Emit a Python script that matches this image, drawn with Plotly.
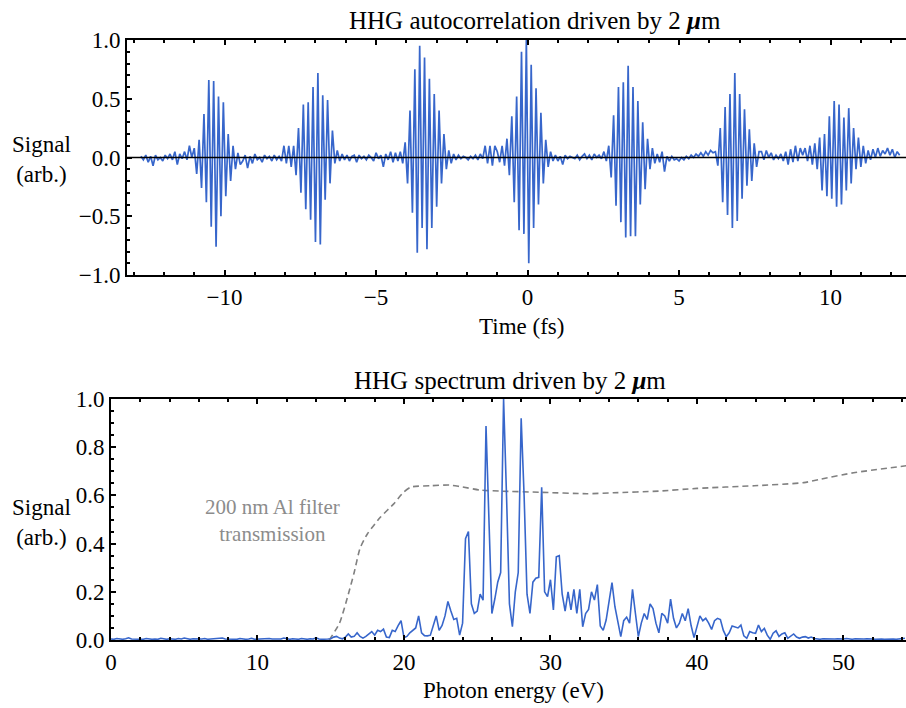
import plotly.graph_objects as go

# ---------------- Top panel: autocorrelation signal (arb.) ----------------
# uniform time sampling: t = T_START + DT * index
T_START = -12.76
DT = 0.08

noise_0 = [0.01, -0.02, 0.02, -0.04, 0.01, -0.07, 0.02, -0.02, 0.0, -0.03, 0.02, -0.01, 0.03, -0.02, 0.05, -0.06, 0.03, -0.01]
burst_1 = [0.05, -0.02, 0.1, 0.0, 0.08, -0.14, 0.15, -0.26, 0.37, -0.38, 0.66, -0.59, 0.65, -0.76, 0.52, -0.5, 0.47, -0.33, 0.2, -0.2, 0.1, -0.1, 0.04, -0.06]
noise_1 = [-0.03, 0.02, -0.09, 0.01, -0.05, 0.03, -0.02, 0.0, -0.04, 0.02, -0.01, 0.01, -0.03, 0.02, -0.02, 0.01, -0.03]
burst_2 = [0.1, -0.05, 0.1, -0.08, 0.1, -0.15, 0.25, -0.3, 0.45, -0.44, 0.47, -0.53, 0.6, -0.72, 0.72, -0.74, 0.53, -0.36, 0.49, -0.22, 0.23, -0.05, 0.06, -0.03]
noise_2 = [0.03, -0.02, 0.02, -0.03, 0.01, 0.02, -0.04, 0.02, -0.01, 0.01, -0.02, 0.02, 0.0, -0.03, 0.04, -0.01, 0.02, -0.08, 0.03, -0.02, 0.05, -0.04, 0.04, -0.03]
burst_3 = [0.05, -0.05, 0.13, -0.22, 0.4, -0.47, 0.75, -0.81, 0.95, -0.6, 0.85, -0.78, 0.67, -0.6, 0.54, -0.42, 0.4, -0.22, 0.2, -0.1, 0.06, -0.05]
noise_3 = [0.03, -0.02, 0.02, -0.01, 0.01, 0.0, -0.02, 0.01, -0.01, 0.02, -0.02, 0.03, -0.01, 0.1, -0.05, 0.1, -0.07, 0.1]
burst_4 = [0.05, -0.04, 0.1, -0.07, 0.16, -0.15, 0.35, -0.38, 0.52, -0.62, 0.9, -0.65, 1.0, -0.9, 0.79, -0.6, 0.59, -0.4, 0.38, -0.22, 0.15, -0.08, 0.05, -0.03]
noise_4 = [0.02, -0.03, 0.01, -0.06, 0.02, -0.01, 0.01, 0.0, -0.01, 0.02, -0.02, 0.01, 0.03, -0.01, 0.02, -0.02, 0.03, 0.0, 0.02, -0.01]
burst_5 = [0.05, -0.03, 0.1, -0.17, 0.36, -0.41, 0.6, -0.55, 0.64, -0.68, 0.78, -0.67, 0.6, -0.67, 0.48, -0.4, 0.3, -0.27, 0.16, -0.1, 0.08, -0.05]
noise_5 = [0.03, -0.04, 0.05, -0.12, 0.01, -0.03, 0.01, -0.02, -0.01, -0.03, 0.0, -0.02, 0.01, -0.01, 0.02, 0.0, 0.03, 0.01, 0.04, 0.01, 0.05, 0.02, 0.06, 0.04]
burst_6 = [0.05, -0.07, 0.25, -0.38, 0.43, -0.49, 0.54, -0.6, 0.72, -0.54, 0.54, -0.35, 0.41, -0.24, 0.24, -0.2, 0.12, -0.08, 0.05]
noise_6 = [0.05, -0.02, 0.06, 0.0, 0.04, -0.02, 0.02, -0.01, 0.03, -0.03, 0.05, -0.06, 0.07, -0.04, 0.1, -0.03, 0.08, 0.02]
burst_7 = [0.08, -0.03, 0.1, -0.06, 0.12, -0.1, 0.17, -0.28, 0.2, -0.33, 0.35, -0.35, 0.48, -0.42, 0.45, -0.4, 0.34, -0.28, 0.42, -0.22, 0.25, -0.1, 0.17, -0.08, 0.1, -0.05]
noise_7 = [0.06, -0.02, 0.07, 0.0, 0.08, 0.01, 0.06, 0.03, 0.08, 0.02, 0.07, 0.0, 0.05, 0.02]

signal_top = (noise_0 + burst_1 + noise_1 + burst_2 + noise_2 + burst_3 + noise_3 + burst_4
              + noise_4 + burst_5 + noise_5 + burst_6 + noise_6 + burst_7 + noise_7)
time_fs = [round(T_START + DT * i, 3) for i in range(len(signal_top))]

# ---------------- Bottom panel: HHG spectrum ----------------
E_STEP = 0.2  # eV, starting at 0
spec_low = [0.004, 0.003, 0.006, 0.004, 0.003, 0.005, 0.009, 0.004, 0.003, 0.005, 0.004, 0.003, 0.006, 0.004, 0.003,
            0.004, 0.003, 0.007, 0.004, 0.003, 0.005, 0.004, 0.003, 0.006, 0.004, 0.008, 0.004, 0.003, 0.005, 0.004,
            0.003, 0.004, 0.006, 0.003, 0.004, 0.005, 0.003, 0.004, 0.008, 0.004, 0.003, 0.005, 0.004, 0.003, 0.006,
            0.004, 0.003, 0.004, 0.007, 0.003, 0.004, 0.005, 0.003, 0.004, 0.006, 0.004, 0.003, 0.005, 0.004, 0.008,
            0.004, 0.003, 0.005, 0.004, 0.003, 0.006, 0.004, 0.003, 0.005, 0.004, 0.009, 0.004, 0.003, 0.005, 0.004]
spec_rise = [0.005, 0.012, 0.015, 0.008, 0.005, 0.012, 0.025, 0.012, 0.015, 0.03,
             0.015, 0.008, 0.015, 0.025, 0.035, 0.02, 0.04, 0.035, 0.045, 0.012,
             0.01, 0.04, 0.035, 0.06, 0.08, 0.01, 0.015, 0.03, 0.04, 0.05,
             0.1, 0.03, 0.018, 0.017, 0.02, 0.06, 0.1, 0.04, 0.06, 0.1,
             0.16, 0.12, 0.085, 0.09, 0.02]
spec_peaks = [0.07, 0.42, 0.45, 0.15, 0.11, 0.12, 0.19, 0.165, 0.888, 0.5,
              0.11, 0.17, 0.24, 0.28, 1.0, 0.6, 0.15, 0.055, 0.2, 0.28,
              0.92, 0.6, 0.19, 0.11, 0.24, 0.256, 0.26, 0.634, 0.2, 0.18,
              0.25, 0.125, 0.345, 0.35, 0.19]
spec_tail = [0.12, 0.2, 0.125, 0.21, 0.11, 0.21, 0.055, 0.11, 0.127, 0.2,
             0.166, 0.23, 0.058, 0.04, 0.083, 0.16, 0.238, 0.138, 0.07, 0.014,
             0.08, 0.095, 0.07, 0.21, 0.11, 0.014, 0.07, 0.11, 0.085, 0.15,
             0.13, 0.07, 0.03, 0.11, 0.10, 0.07, 0.17, 0.09, 0.05, 0.07,
             0.11, 0.08, 0.13, 0.06, 0.01, 0.055, 0.1, 0.08, 0.09, 0.07,
             0.044, 0.08, 0.09, 0.085, 0.04, 0.014, 0.03, 0.058, 0.055, 0.05,
             0.062, 0.017, 0.007, 0.035, 0.03, 0.028, 0.062, 0.035, 0.048, 0.02,
             0.003, 0.028, 0.038, 0.015, 0.025, 0.03, 0.007, 0.015, 0.025, 0.012,
             0.007, 0.012, 0.014, 0.008, 0.012, 0.006,
             0.004, 0.003, 0.005, 0.004, 0.006, 0.003, 0.004, 0.005, 0.003, 0.004,
             0.006, 0.004, 0.003, 0.005, 0.004, 0.003, 0.004, 0.005, 0.003, 0.004,
             0.003, 0.005, 0.004, 0.003, 0.004, 0.006, 0.004, 0.003, 0.005, 0.004, 0.007]
spectrum = spec_low + spec_rise + spec_peaks + spec_tail
energy_eV = [round(E_STEP * i, 2) for i in range(len(spectrum))]

filter_energy = [14.9, 15.6, 16.2, 16.6, 17.0, 17.5, 18.4, 19.3, 20.0, 20.5, 21.8, 23.1, 23.8,
                 25.2, 26.5, 29.3, 32.5, 34.3, 37.4, 40.0, 43.9, 47.3, 48.4, 50.7, 54.3]
filter_trans = [0.0, 0.07, 0.19, 0.28, 0.38, 0.44, 0.51, 0.565, 0.615, 0.635, 0.64, 0.643, 0.637,
                0.622, 0.618, 0.613, 0.607, 0.611, 0.618, 0.629, 0.64, 0.653, 0.667, 0.694, 0.723]

# ---------------- figure ----------------
W, H = 906, 708
ML, MR, MT, MB = 111, 0, 40, 68
PW, PH = W - ML - MR, H - MT - MB

def px_x(x):
    return (x - ML) / PW

def px_y(y):
    return (H - MB - y) / PH

BLUE = "#3766CB"
FONT = "Liberation Serif"

fig = go.Figure()
fig.add_trace(go.Scatter(x=time_fs, y=signal_top, mode="lines",
                         line=dict(color=BLUE, width=1.7), xaxis="x", yaxis="y",
                         showlegend=False))
fig.add_trace(go.Scatter(x=filter_energy, y=filter_trans, mode="lines",
                         line=dict(color="#808080", width=1.6, dash="6px,4px", shape="spline", smoothing=0.6),
                         xaxis="x2", yaxis="y2", showlegend=False))
fig.add_trace(go.Scatter(x=energy_eV, y=spectrum, mode="lines",
                         line=dict(color=BLUE, width=1.6), xaxis="x2", yaxis="y2",
                         showlegend=False))

tickfont = dict(family=FONT, size=23, color="black")
common = dict(showline=True, linecolor="black", linewidth=2, ticks="inside",
              tickcolor="black", tickwidth=1.5, ticklen=5, showgrid=False,
              zeroline=False, tickfont=tickfont)

fig.update_layout(
    width=W, height=H,
    margin=dict(l=ML, r=MR, t=MT, b=MB),
    paper_bgcolor="white", plot_bgcolor="white",
    xaxis=dict(domain=[px_x(127), 1.0], anchor="y", range=[-13.22, 12.49],
               tickvals=[-10, -5, 0, 5, 10], mirror="allticks",
               minor=dict(dtick=1, ticks="inside", ticklen=3, tickcolor="black", tickwidth=1.5),
               ticklabelstandoff=0, **common),
    yaxis=dict(domain=[px_y(275), px_y(40)], anchor="x", range=[-1, 1],
               tickvals=[-1, -0.5, 0, 0.5, 1], tickformat=".1f", mirror=False,
               minor=dict(dtick=0.1, ticks="inside", ticklen=3, tickcolor="black", tickwidth=1.5),
               **common),
    xaxis2=dict(domain=[0.0, 1.0], anchor="y2", range=[0, 54.27],
                dtick=10, tick0=0, mirror="allticks",
                minor=dict(dtick=2, ticks="inside", ticklen=3, tickcolor="black", tickwidth=1.5),
                ticklabelstandoff=0, **common),
    yaxis2=dict(domain=[0.0, px_y(399)], anchor="x2", range=[0, 1],
                dtick=0.2, tick0=0, tickformat=".1f", mirror=False,
                minor=dict(dtick=0.05, ticks="inside", ticklen=3, tickcolor="black", tickwidth=1.5),
                **common),
    shapes=[dict(type="line", xref="x domain", yref="y", x0=0, x1=1, y0=0, y1=0,
                 line=dict(color="black", width=1.5), layer="above")],
)

ann_font = dict(family=FONT, size=23, color="black")
annotations = [
    dict(text="HHG autocorrelation driven by 2 <b><i>μ</i></b>m", x=px_x(535), y=px_y(20.5),
         font=dict(family=FONT, size=25, color="black")),
    dict(text="HHG spectrum driven by 2 <b><i>μ</i></b>m", x=px_x(510), y=px_y(380),
         font=dict(family=FONT, size=25, color="black")),
    dict(text="Time (fs)", x=px_x(521.7), y=px_y(326.7), font=ann_font),
    dict(text="Photon energy (eV)", x=px_x(513.6), y=px_y(690), font=ann_font),
    dict(text="Signal<br>(arb.)", x=px_x(41), y=px_y(160), font=ann_font),
    dict(text="Signal<br>(arb.)", x=px_x(41), y=px_y(522), font=ann_font),
    dict(text="200 nm Al filter<br>transmission", x=px_x(272), y=px_y(520.5),
         font=dict(family=FONT, size=21, color="#8c8c8c")),
]
for a in annotations:
    a.update(xref="paper", yref="paper", xanchor="center", yanchor="middle", showarrow=False)
fig.update_layout(annotations=annotations)

fig.write_html("out.html")
